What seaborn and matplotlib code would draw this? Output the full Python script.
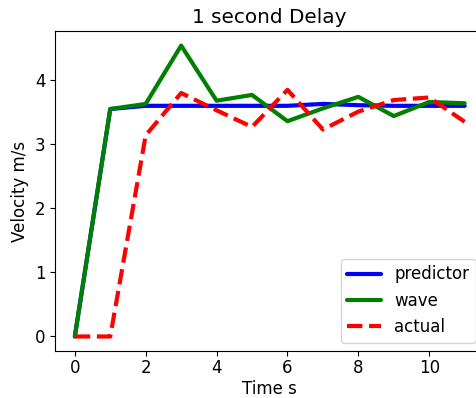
import matplotlib
matplotlib.use("Agg")
import matplotlib.pyplot as plt
import seaborn as sns

time_s = [0, 1, 2, 3, 4, 5, 6, 7, 8, 9, 10, 11]
predictor = [0.0, 3.55, 3.60, 3.60, 3.60, 3.60, 3.60, 3.63, 3.61, 3.60, 3.60, 3.60]
wave = [0.0, 3.55, 3.63, 4.54, 3.68, 3.77, 3.36, 3.56, 3.74, 3.44, 3.66, 3.64]
actual = [0.0, 0.0, 3.14, 3.80, 3.53, 3.27, 3.85, 3.23, 3.51, 3.69, 3.73, 3.35]

sns.set_style("white")
plt.rcParams['font.family'] = ['DejaVu Sans']
plt.rcParams['text.color'] = 'black'
plt.rcParams['axes.labelcolor'] = 'black'
plt.rcParams['xtick.color'] = 'black'
plt.rcParams['ytick.color'] = 'black'

fig, ax = plt.subplots(figsize=(4.77, 3.98), dpi=100)
sns.lineplot(x=time_s, y=predictor, color='blue', linewidth=3, label='predictor', ax=ax)
sns.lineplot(x=time_s, y=wave, color='green', linewidth=3, label='wave', ax=ax)
sns.lineplot(x=time_s, y=actual, color='red', linewidth=3, linestyle='--', label='actual', ax=ax)

ax.set_title('1 second Delay', fontsize=14.4)
ax.set_xlabel('Time s', fontsize=12, labelpad=2)
ax.set_ylabel('Velocity m/s', fontsize=12)
ax.tick_params(labelsize=12, left=True, bottom=True, length=3.5, width=0.8)
ax.tick_params(axis='x', pad=2.5)
for s in ax.spines.values():
    s.set_color('black')
    s.set_linewidth(0.8)
ax.set_xticks([0, 2, 4, 6, 8, 10])
ax.set_yticks([0, 1, 2, 3, 4])
ax.legend(loc='lower right', fontsize=12)

# the original image is cropped slightly inside the right edge of the axes
plt.subplots_adjust(left=0.116, right=1.015, top=0.922, bottom=0.118)
plt.savefig('out.png', dpi=100)
